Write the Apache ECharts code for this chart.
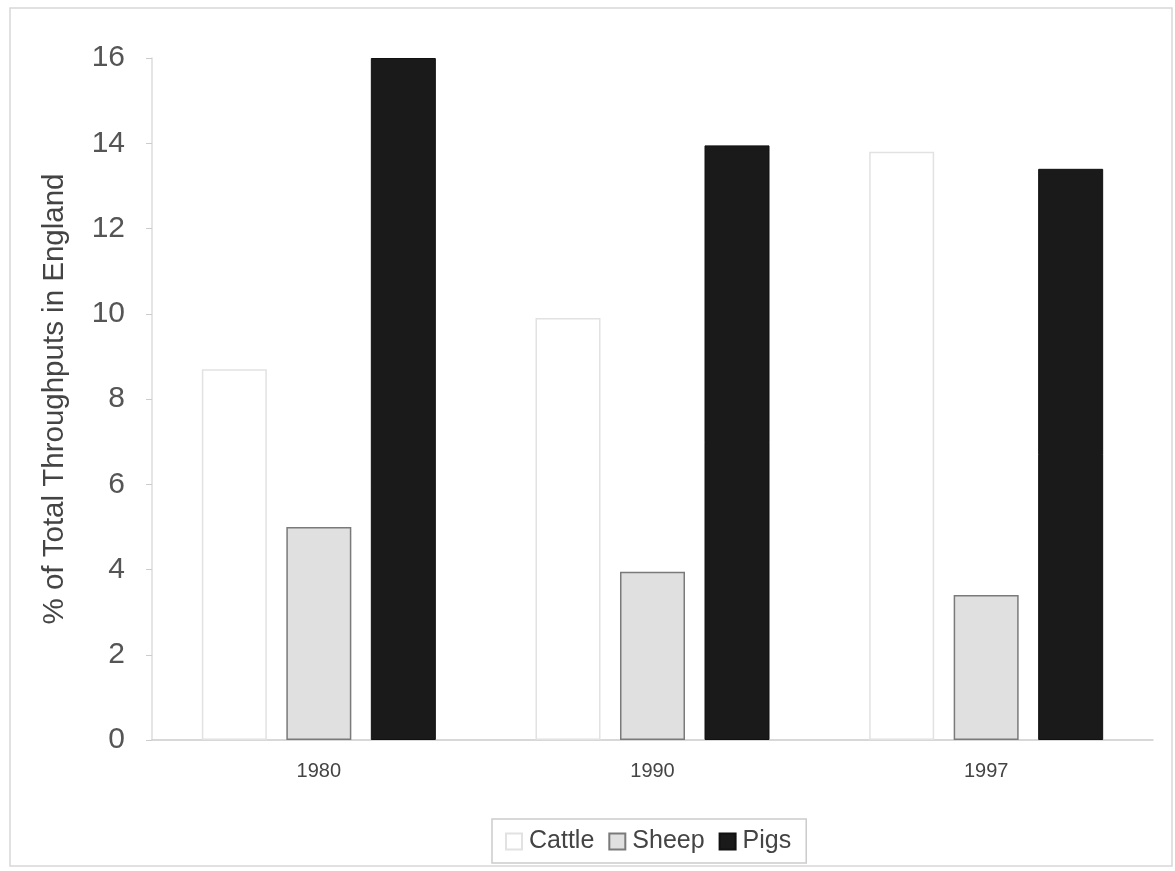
<!DOCTYPE html>
<html><head><meta charset="utf-8">
<script src="https://cdn.jsdelivr.net/npm/echarts@6/dist/echarts.min.js"></script>
<style>html,body{margin:0;padding:0;background:#fff}#c{width:1175px;height:871px}</style>
</head><body><div id="c"></div>
<script>
const categories = ['1980', '1990', '1997'];
const cattle = [8.7, 9.9, 13.8];
const sheep = [5.0, 3.95, 3.4];
const pigs = [16.0, 13.95, 13.4];
const yTicks = [0, 2, 4, 6, 8, 10, 12, 14, 16];

const chart = echarts.init(document.getElementById('c'));
chart.setOption({
  animation: false,
  backgroundColor: '#fff',
  graphic: [{type: 'rect', shape: {x: 10, y: 8, width: 1162, height: 858}, style: {fill: 'none', stroke: '#d8d8d8', lineWidth: 1.5}, z: -1}],
  grid: {left: 152, right: 22, top: 58, bottom: 131, containLabel: false},
  legend: {
    bottom: 8, left: 492,
    icon: 'rect',
    itemWidth: 16, itemHeight: 16, itemGap: 14,
    padding: [10, 15, 9, 13],
    borderColor: '#ccc', borderWidth: 1.5,
    textStyle: {fontFamily: 'Liberation Sans, Arial', fontSize: 25, color: '#444', padding: [0, 0, 0, 2]},
    data: ['Cattle', 'Sheep', 'Pigs']
  },
  xAxis: {
    type: 'category', data: categories,
    axisLine: {lineStyle: {color: '#ccc', width: 1.5}},
    axisTick: {show: false},
    axisLabel: {fontFamily: 'Liberation Sans, Arial', fontSize: 20, color: '#444', margin: 21}
  },
  yAxis: {
    type: 'value', min: 0, max: 16, interval: 2,
    name: '% of Total Throughputs in England', nameLocation: 'middle', nameGap: 82,
    nameTextStyle: {fontFamily: 'Liberation Sans, Arial', fontSize: 29.5, color: '#444'},
    axisLine: {show: true, lineStyle: {color: '#ddd', width: 1.5}},
    axisTick: {show: true, length: 6, lineStyle: {color: '#ccc'}},
    splitLine: {show: false},
    axisLabel: {fontFamily: 'Liberation Sans, Arial', fontSize: 30, color: '#555', margin: 27,
      formatter: v => yTicks.includes(v) ? String(v) : ''}
  },
  series: [
    {name: 'Cattle', type: 'bar', data: cattle, barWidth: 65, barGap: '30%',
      itemStyle: {color: '#fff', borderColor: '#e2e2e2', borderWidth: 1.5}},
    {name: 'Sheep', type: 'bar', data: sheep, barWidth: 65, barGap: '30%',
      itemStyle: {color: '#e0e0e0', borderColor: '#7a7a7a', borderWidth: 1.5}},
    {name: 'Pigs', type: 'bar', data: pigs, barWidth: 65, barGap: '30%',
      itemStyle: {color: '#1a1a1a', borderColor: '#111', borderWidth: 1}}
  ]
});
</script></body></html>
